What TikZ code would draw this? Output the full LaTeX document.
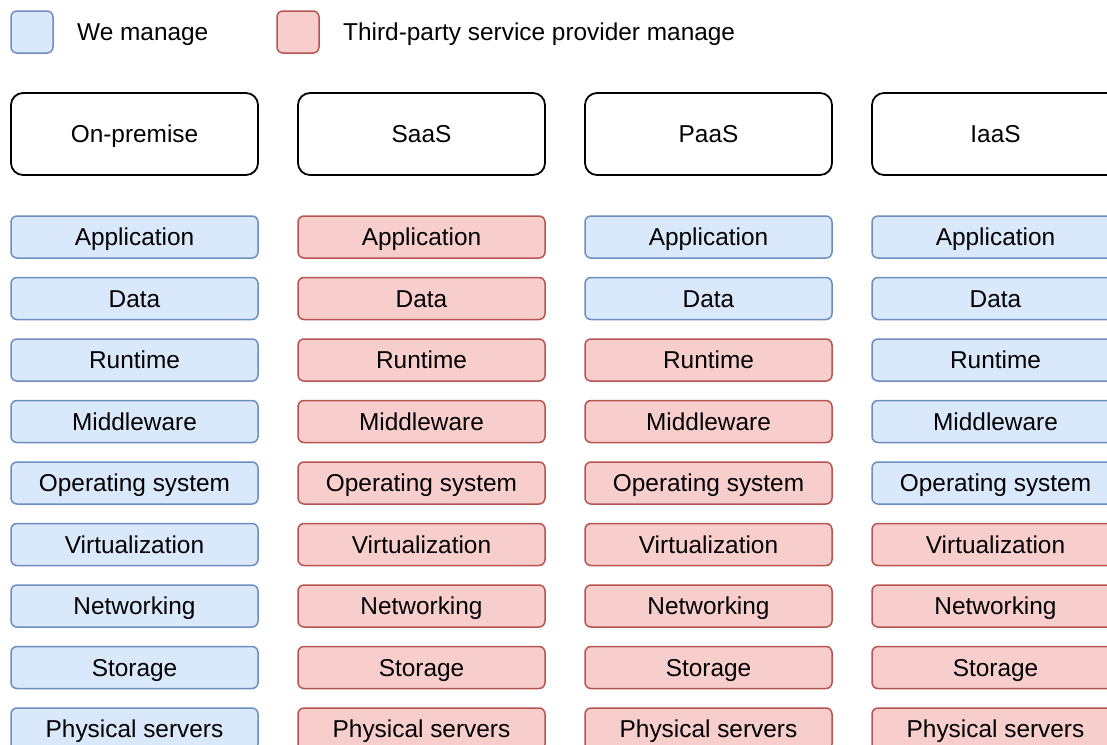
\documentclass[tikz,border=0pt]{standalone}
\usepackage{fontspec}
\setmainfont{Liberation Sans}
\begin{document}
\begin{tikzpicture}[x=1pt,y=-1pt,
  every node/.style={font=\fontsize{24.4pt}{29pt}\selectfont, inner sep=0pt, text height=17.5pt, text depth=0pt},
  layer/.style={rectangle, rounded corners=6pt, line width=1.5pt, minimum width=247pt, minimum height=42pt},
  we/.style={layer, draw=weline, fill=wefill},
  tp/.style={layer, draw=tpline, fill=tpfill},
  head/.style={rectangle, rounded corners=12pt, draw=black, line width=1.8pt, fill=white, minimum width=247pt, minimum height=82pt},
  legbox/.style={rectangle, rounded corners=6pt, line width=1.5pt, minimum width=42pt, minimum height=42pt},
  legtext/.style={anchor=west}
]
\definecolor{wefill}{HTML}{DAE8FC}
\definecolor{weline}{HTML}{6C8EBF}
\definecolor{tpfill}{HTML}{F8CECC}
\definecolor{tpline}{HTML}{B85450}
\useasboundingbox (0,0) rectangle (1107,744);

% legend
\node[legbox, draw=weline, fill=wefill] (lwe) at (32,32) {};
\node[legtext] (lwet) at (77,32) {We manage};
\node[legbox, draw=tpline, fill=tpfill] (ltp) at (298,32) {};
\node[legtext] (ltpt) at (343,32) {Third-party service provider manage};

% headers
\node[head] (h1) at (134.5,134) {On-premise};
\node[head] (h2) at (421.5,134) {SaaS};
\node[head] (h3) at (708.5,134) {PaaS};
\node[head] (h4) at (995.5,134) {IaaS};

% rows
\foreach \i/\lab/\sa/\pa/\ia in {
  0/Application/tp/we/we,
  1/Data/tp/we/we,
  2/Runtime/tp/tp/we,
  3/Middleware/tp/tp/we,
  4/Operating system/tp/tp/we,
  5/Virtualization/tp/tp/tp,
  6/Networking/tp/tp/tp,
  7/Storage/tp/tp/tp,
  8/Physical servers/tp/tp/tp} {
  \pgfmathsetmacro{\yy}{237+61.5*\i}
  \node[we] (on\i) at (134.5,\yy) {\lab};
  \node[\sa] (sa\i) at (421.5,\yy) {\lab};
  \node[\pa] (pa\i) at (708.5,\yy) {\lab};
  \node[\ia] (ia\i) at (995.5,\yy) {\lab};
}
\end{tikzpicture}
\end{document}
